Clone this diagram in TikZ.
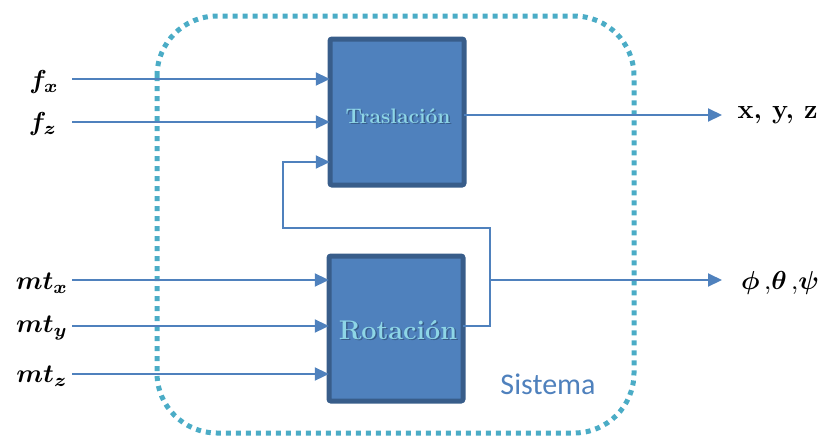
\documentclass[tikz,border=0pt]{standalone}
\usepackage{fontspec}
\usepackage{amsmath,bm}
\newfontfamily\calfont{Carlito}
\usetikzlibrary{arrows.meta}
\definecolor{accblue}{HTML}{4F81BD}
\definecolor{accdark}{HTML}{385D8A}
\definecolor{accteal}{HTML}{4BACC6}
\definecolor{lightteal}{HTML}{8ED6E6}
\tikzset{
  blockbox/.style={draw=accdark, fill=accblue, line width=5pt, rounded corners=2pt},
  sig/.style={draw=accblue, line width=2pt, -{Triangle[length=14pt,width=13pt]}},
  fb/.style={draw=accblue, line width=1.5pt},
  inlabel/.style={anchor=center, scale=2.6},
  outlabel/.style={anchor=west, font=\fontsize{27}{30}\selectfont\bfseries},
}
\begin{document}
\begin{tikzpicture}[x=1pt,y=-1pt]
\useasboundingbox (0,0) rectangle (826,437);
% system border
\draw[accteal, line width=5pt, dash pattern=on 5pt off 5pt, rounded corners=60pt] (157,16) rectangle (634,433);
\node[font=\calfont\fontsize{30}{32}\selectfont, text=accblue] (sis) at (548,384) {Sistema};
% blocks
\path[blockbox] (330,39) rectangle (464,185);
\node (tras) at (397,112) [minimum width=134pt, minimum height=146pt] {};
\path[blockbox] (329,256) rectangle (463,401);
\node (rot) at (396,328) [minimum width=134pt, minimum height=145pt] {};
% block labels with shadow
\node[text=accdark, font=\bfseries\fontsize{21}{24}\selectfont] at (399.5,117.5) {Traslación};
\node[text=lightteal, font=\bfseries\fontsize{21}{24}\selectfont] at (398,116) {Traslación};
\node[text=accdark, font=\bfseries\fontsize{27}{30}\selectfont] at (399.5,331.5) {Rotación};
\node[text=lightteal, font=\bfseries\fontsize{27}{30}\selectfont] at (398,330) {Rotación};
% input labels
\node[inlabel] (fx) at (44,82) {$\bm{f_x}$};
\node[inlabel] (fz) at (43,124) {$\bm{f_z}$};
\node[inlabel] (mtx) at (42,283) {$\bm{mt_x}$};
\node[inlabel] (mty) at (42,328) {$\bm{mt_y}$};
\node[inlabel] (mtz) at (42,376) {$\bm{mt_z}$};
% coordinates
\coordinate (fxs) at (72,79);
\coordinate (fzs) at (72,122);
\coordinate (mtxs) at (72,280);
\coordinate (mtys) at (72,326);
\coordinate (mtzs) at (72,374);
\draw[sig] (fxs) -- (fxs -| tras.west);
\draw[sig] (fzs) -- (fzs -| tras.west);
\draw[sig] (mtxs) -- (mtxs -| rot.west);
\draw[sig] (mtys) -- (mtys -| rot.west);
\draw[sig] (mtzs) -- (mtzs -| rot.west);
% outputs
\node[outlabel] (xyz) at (734,115) {x, y, z};
\node[anchor=west, scale=2.6] (ang) at (732,283) {$\bm{\phi}$\,,$\bm{\theta}$\,,$\bm{\psi}$};
\coordinate (tout) at (464,115);
\coordinate (rout) at (463,326);
\coordinate (jx) at (490,326);
\coordinate (jt) at (490,228);
\coordinate (jl) at (283,228);
\coordinate (jf) at (283,162);
\coordinate (jo) at (490,280);
\coordinate (oend) at (722,280);
\coordinate (tend) at (722,115);
\draw[sig] (tout) -- (tend);
\draw[fb] (rout) -- (jx) -- (jt) -- (jl) -- (jf) -- (287,162);
\draw[sig] (286,162) -- (jf -| tras.west);
\draw[sig] (jo) -- (oend);
\end{tikzpicture}
\end{document}
